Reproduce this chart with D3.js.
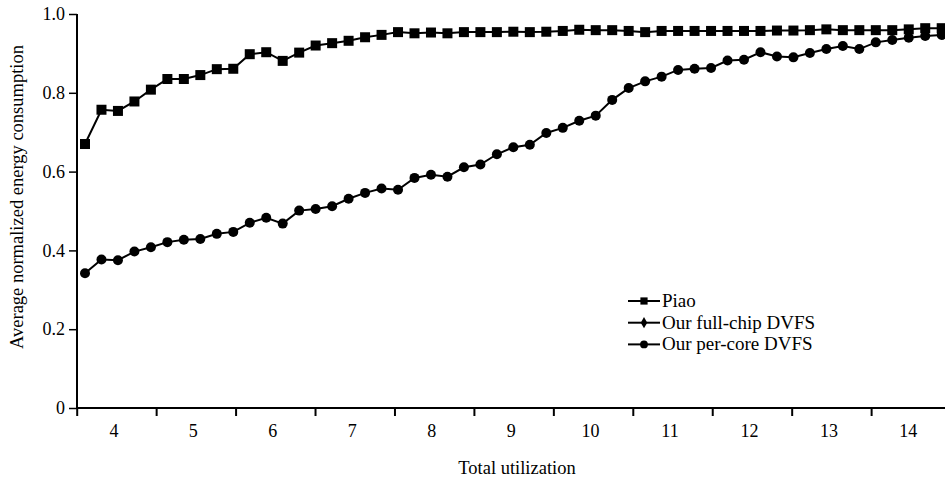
<!doctype html>
<html>
<head>
	<meta charset="UTF-8">
	<title>Average normalized energy consumption</title>
	<style>
		body { margin: 0; background: #ffffff; }
		#container { font-size: 0; }
		text { font-family: "Liberation Serif", "Times New Roman", serif; fill: #000; }
	</style>
</head>
<body>
<div id="container"></div>
<script src="https://cdn.jsdelivr.net/npm/d3@7"></script>
<script>
	var w = 945;
	var h = 479;

	// total utilization of each task set (one point per set)
	var utilization = [3.8, 4.0, 4.2, 4.4, 4.6, 4.8, 5.0, 5.2, 5.4, 5.6,
		5.8, 6.0, 6.2, 6.4, 6.6, 6.8, 7.0, 7.2, 7.4, 7.6,
		7.8, 8.0, 8.2, 8.4, 8.6, 8.8, 9.0, 9.2, 9.4, 9.6,
		9.8, 10.0, 10.2, 10.4, 10.6, 10.8, 11.0, 11.2, 11.4, 11.6,
		11.8, 12.0, 12.2, 12.4, 12.6, 12.8, 13.0, 13.2, 13.4, 13.6,
		13.8, 14.0, 14.2];

	var piao = [0.670, 0.757, 0.754, 0.778, 0.808, 0.835, 0.835, 0.845, 0.860, 0.861,
		0.898, 0.903, 0.881, 0.902, 0.920, 0.926, 0.932, 0.941, 0.947, 0.954,
		0.951, 0.953, 0.951, 0.954, 0.954, 0.954, 0.955, 0.954, 0.955, 0.957,
		0.960, 0.959, 0.959, 0.957, 0.954, 0.957, 0.957, 0.957, 0.957, 0.957,
		0.957, 0.957, 0.958, 0.958, 0.959, 0.961, 0.959, 0.959, 0.959, 0.959,
		0.961, 0.964, 0.964];

	var perCore = [0.342, 0.377, 0.375, 0.397, 0.408, 0.421, 0.427, 0.429, 0.442, 0.447,
		0.470, 0.483, 0.468, 0.501, 0.505, 0.512, 0.531, 0.546, 0.557, 0.554,
		0.584, 0.592, 0.587, 0.611, 0.618, 0.644, 0.662, 0.668, 0.698, 0.711,
		0.729, 0.742, 0.782, 0.812, 0.829, 0.841, 0.858, 0.861, 0.863, 0.882,
		0.884, 0.903, 0.892, 0.890, 0.901, 0.911, 0.919, 0.911, 0.928, 0.934,
		0.940, 0.944, 0.947];

	var xLabels = [4, 5, 6, 7, 8, 9, 10, 11, 12, 13, 14];
	var xTickMarks = [3.5, 4.5, 5.5, 6.5, 7.5, 8.5, 9.5, 10.5, 11.5, 12.5, 13.5];
	var yTicks = [0, 0.2, 0.4, 0.6, 0.8, 1.0];
	var legendNames = ["Piao", "Our full-chip DVFS", "Our per-core DVFS"];

	var yScale = d3.scaleLinear().domain([0, 1]).range([408, 14]);
	// points sit on the category positions of the original plot
	var xScale = d3.scaleLinear().domain([3.8, 14.2]).range([85, 941.7]);
	// printed axis (tick marks between the labels)
	var axisScale = d3.scaleLinear().domain([3.5, 14.43]).range([76.7, 945]);

	var svg = d3.select("#container")
			.append("svg")
			.attr("width", w)
			.attr("height", h);

	// y axis
	var yAxis = svg.append("g")
			.attr("transform", "translate(77,0)")
			.call(d3.axisLeft(yScale)
				.tickValues(yTicks)
				.tickSize(8)
				.tickPadding(4)
				.tickFormat(function (d) { return d === 0 ? "0" : d3.format(".1f")(d); }));
	yAxis.select(".domain").attr("stroke-width", 2).attr("d", "M0,14V409");
	yAxis.selectAll(".tick line").attr("stroke-width", 1.5);
	yAxis.selectAll("text").attr("font-size", 18).attr("font-family", "Liberation Serif");

	// x axis: tick marks
	var xAxis = svg.append("g")
			.attr("transform", "translate(0,408)")
			.call(d3.axisBottom(axisScale)
				.tickValues(xTickMarks)
				.tickSize(8)
				.tickFormat(""));
	xAxis.select(".domain").attr("stroke-width", 2).attr("d", "M76,0H945");
	xAxis.selectAll(".tick line").attr("stroke-width", 2);

	// x axis: labels
	var xLab = svg.append("g")
			.attr("transform", "translate(-3,408)")
			.call(d3.axisBottom(axisScale)
				.tickValues(xLabels)
				.tickSize(0)
				.tickPadding(16));
	xLab.select(".domain").remove();
	xLab.selectAll("text").attr("font-size", 18).attr("font-family", "Liberation Serif");

	// axis titles
	svg.append("text")
			.attr("x", 517)
			.attr("y", 474)
			.attr("text-anchor", "middle")
			.attr("font-size", 18.5)
			.text("Total utilization");
	svg.append("text")
			.attr("transform", "translate(23,197) rotate(-90)")
			.attr("text-anchor", "middle")
			.attr("font-size", 18.5)
			.text("Average normalized energy consumption");

	var line = d3.line()
			.x(function (d, i) { return xScale(utilization[i]); })
			.y(function (d) { return yScale(d); });

	// per-core series
	svg.append("path")
			.datum(perCore)
			.attr("fill", "none")
			.attr("stroke", "#000")
			.attr("stroke-width", 2)
			.attr("d", line);
	svg.selectAll("circle.core")
			.data(perCore)
			.enter()
			.append("circle")
			.attr("class", "core")
			.attr("cx", function (d, i) { return xScale(utilization[i]); })
			.attr("cy", function (d) { return yScale(d); })
			.attr("r", 5);

	// Piao series
	svg.append("path")
			.datum(piao)
			.attr("fill", "none")
			.attr("stroke", "#000")
			.attr("stroke-width", 2)
			.attr("d", line);
	svg.selectAll("rect.piao")
			.data(piao)
			.enter()
			.append("rect")
			.attr("class", "piao")
			.attr("x", function (d, i) { return xScale(utilization[i]) - 5; })
			.attr("y", function (d) { return yScale(d) - 5; })
			.attr("width", 10)
			.attr("height", 10);

	// legend
	var legend = svg.append("g").attr("transform", "translate(628,301)");
	var rows = legend.selectAll("g")
			.data(legendNames)
			.enter()
			.append("g")
			.attr("transform", function (d, i) { return "translate(0," + (i * 21.7) + ")"; });
	rows.append("line")
			.attr("x1", 0).attr("x2", 32)
			.attr("stroke", "#000")
			.attr("stroke-width", 2);
	rows.append("path")
			.attr("transform", "translate(16,0)")
			.attr("d", function (d, i) {
				var t = [d3.symbolSquare, d3.symbolDiamond, d3.symbolCircle][i];
				var s = [52, 36, 48][i];
				return d3.symbol(t, s)();
			});
	rows.append("text")
			.attr("x", 34)
			.attr("y", 6)
			.attr("font-size", 19)
			.text(function (d) { return d; });
</script>
</body>
</html>
